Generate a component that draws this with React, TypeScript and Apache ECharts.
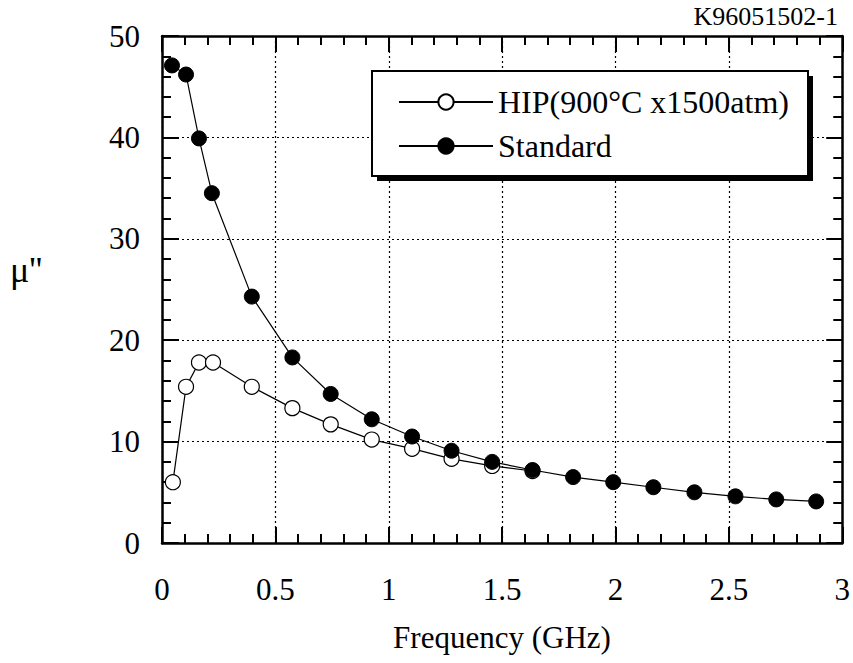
import React, { useEffect, useRef } from "react";
import * as echarts from "echarts";

const xTicks = [0, 0.5, 1, 1.5, 2, 2.5, 3];
const yTicks = [0, 10, 20, 30, 40, 50];

const freqHip = [0.048, 0.106, 0.163, 0.225, 0.396, 0.575, 0.744, 0.925, 1.103, 1.277, 1.456, 1.634];
const muHip = [6.0, 15.4, 17.8, 17.8, 15.4, 13.3, 11.7, 10.2, 9.3, 8.3, 7.6, 7.1];

const freqStd = [0.044, 0.106, 0.163, 0.22, 0.396, 0.575, 0.744, 0.925, 1.103, 1.277, 1.456, 1.634, 1.813, 1.99, 2.167, 2.348, 2.529, 2.709, 2.885];
const muStd = [47.1, 46.2, 39.9, 34.5, 24.3, 18.3, 14.7, 12.2, 10.5, 9.1, 8.0, 7.2, 6.5, 6.0, 5.5, 5.0, 4.6, 4.3, 4.1];

const seriesNames = ["HIP(900°C x1500atm)", "Standard"];
const xTitle = "Frequency (GHz)";
const yTitle = "μ''";
const codeLabel = "K96051502-1";

const FONT = "Liberation Serif";

export default function App() {
  const ref = useRef<HTMLDivElement>(null);
  useEffect(() => {
    if (!ref.current) return;
    const chart = echarts.init(ref.current, undefined, { renderer: "svg" });
    const axisCommon = {
      type: "value" as const,
      axisLine: { show: true, onZero: false, lineStyle: { color: "#000", width: 2.5 } },
      axisTick: { show: true, inside: true, length: 16, lineStyle: { color: "#000", width: 2 } },
      minorTick: { show: true, splitNumber: 5, length: 9, lineStyle: { color: "#000", width: 2 } },
    };
    const hipData = freqHip.map((f, i) => [f, muHip[i]]);
    const stdData = freqStd.map((f, i) => [f, muStd[i]]);
    chart.setOption({
      animation: false,
      backgroundColor: "#fff",
      textStyle: { fontFamily: FONT },
      grid: { left: 162, right: 10, top: 36, bottom: 120, containLabel: false },
      xAxis: [
        {
          ...axisCommon,
          position: "bottom",
          min: xTicks[0],
          max: xTicks[xTicks.length - 1],
          interval: 0.5,
          axisLabel: { show: true, margin: 31, color: "#000", fontSize: 31, fontFamily: FONT },
          splitLine: { show: true, lineStyle: { color: "#000", type: [2, 3], width: 1.2 } },
        },
        {
          ...axisCommon,
          position: "top",
          min: xTicks[0],
          max: xTicks[xTicks.length - 1],
          interval: 0.5,
          axisLabel: { show: false },
          splitLine: { show: false },
        },
      ],
      yAxis: [
        {
          ...axisCommon,
          position: "left",
          min: yTicks[0],
          max: yTicks[yTicks.length - 1],
          interval: 10,
          axisTick: { ...axisCommon.axisTick, length: 17 },
          axisLabel: { show: true, margin: 22, color: "#000", fontSize: 31, fontFamily: FONT },
          splitLine: { show: true, lineStyle: { color: "#000", type: [2, 3], width: 1.2 } },
        },
        {
          ...axisCommon,
          position: "right",
          min: yTicks[0],
          max: yTicks[yTicks.length - 1],
          interval: 10,
          axisLabel: { show: false },
          splitLine: { show: false },
        },
      ],
      legend: {
        show: true,
        orient: "vertical",
        left: 393,
        top: 81,
        itemWidth: 94,
        itemHeight: 19,
        itemGap: 12,
        z: 10,
        data: seriesNames,
        textStyle: { fontSize: 32, fontFamily: FONT, color: "#000", lineHeight: 31, padding: [0, 0, 0, 0] },
      },
      graphic: [
        { type: "rect", z: 5, shape: { x: 377, y: 76, width: 436, height: 105 }, style: { fill: "#000" } },
        { type: "rect", z: 6, shape: { x: 372, y: 71, width: 436, height: 105 }, style: { fill: "#fff", stroke: "#000", lineWidth: 2 } },
        {
          type: "text",
          z: 10,
          x: 838,
          y: 16,
          style: { text: codeLabel, fontSize: 26, fontFamily: FONT, fill: "#000", align: "right", verticalAlign: "middle" },
        },
        {
          type: "text",
          z: 10,
          x: 502,
          y: 637,
          style: { text: xTitle, fontSize: 31, fontFamily: FONT, fill: "#000", align: "center", verticalAlign: "middle" },
        },
        {
          type: "text",
          z: 10,
          x: 10,
          y: 270,
          style: { text: yTitle, fontSize: 36, fontFamily: FONT, fill: "#000", align: "left", verticalAlign: "middle" },
        },
      ],
      series: [
        {
          name: seriesNames[0],
          type: "line",
          data: hipData,
          symbol: "circle",
          symbolSize: 15,
          showSymbol: true,
          z: 2,
          lineStyle: { color: "#000", width: 1.2 },
          itemStyle: { color: "#fff", borderColor: "#000", borderWidth: 1.2 },
        },
        {
          name: seriesNames[1],
          type: "line",
          data: stdData,
          symbol: "circle",
          symbolSize: 15,
          showSymbol: true,
          z: 3,
          lineStyle: { color: "#000", width: 1.2 },
          itemStyle: { color: "#000", borderColor: "#000", borderWidth: 1 },
        },
      ],
    });
    return () => chart.dispose();
  }, []);
  return (
    <div
      ref={ref}
      style={{ position: "fixed", left: 0, top: 0, width: 853, height: 663, background: "#fff" }}
    />
  );
}
